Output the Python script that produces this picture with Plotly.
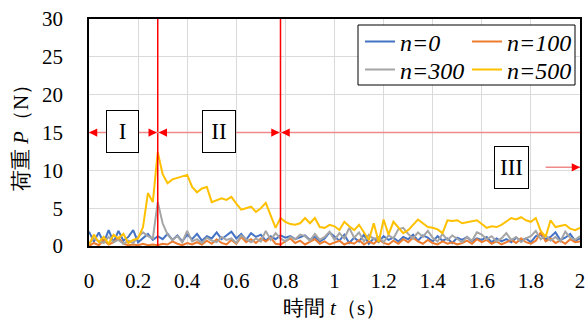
import plotly.graph_objects as go

# time axis (s), sampled every 0.02 s
t = [round(i * 0.02, 2) for i in range(101)]

p_n0 = [1.9, 0.6, 1.8, 0.4, 2.1, 0.5, 2.0, 0.7, 1.2, 2.1, 0.5, 1.0, 1.6, 0.8, 1.3, 0.9, 1.6, 0.8, 1.4, 0.6,
        1.5, 0.9, 1.6, 0.7, 1.3, 1.0, 1.8, 0.9, 1.4, 1.9, 1.0, 1.6, 0.8, 1.7, 1.2, 1.5, 0.7, 1.3, 0.9, 1.4,
        1.1, 1.3, 0.9, 1.2, 1.4, 0.8, 1.2, 0.6, 1.0, 1.8, 1.2, 0.7, 1.5, 0.4, 1.1, 0.6, 1.5, 0.3, 1.0, 0.5,
        1.3, 0.8, 1.1, 0.6, 1.2, 0.9, 1.5, 0.7, 1.4, 1.1, 0.6, 1.3, 0.7, 1.0, 0.4, 1.1, 0.8, 1.2, 0.6, 1.0,
        0.8, 1.2, 0.5, 1.0, 0.6, 0.9, 0.5, 1.1, 0.7, 1.0, 0.5, 1.3, 1.5, 0.9, 1.2, 1.8, 0.8, 1.1, 1.6, 0.7,
        1.0]

p_n100 = [0.0, 0.4, 0.1, 0.8, 0.2, 0.5, 1.1, 0.3, 0.1, 0.2, 0.1, 0.3, 0.1, 0.2, 0.1, 0.3, 0.2, 0.6, 0.3, 0.1,
          0.4, 0.2, 0.5, 0.2, 0.7, 0.3, 0.9, 0.4, 0.2, 0.8, 0.3, 1.2, 0.5, 0.9, 0.4, 1.0, 0.6, 1.1, 0.3, 0.2,
          0.6, 1.0, 0.4, 0.7, 0.2, 0.5, 0.9, 0.3, 0.6, 0.2, 0.4, 0.7, 0.2, 0.5, 0.3, 0.8, 0.2, 0.6, 0.3, 0.9,
          0.4, 0.2, 0.7, 0.3, 0.9, 0.5, 1.1, 0.6, 0.3, 0.8, 0.4, 0.2, 0.6, 0.3, 0.5, 0.2, 0.4, 0.7, 0.3, 0.9,
          0.5, 0.8, 0.3, 0.6, 0.2, 0.5, 0.8, 0.4, 1.0, 0.5, 0.3, 0.7, 1.8, 0.6, 1.0, 0.4, 0.7, 0.3, 0.9, 0.5,
          0.6]

p_n300 = [0.3, 1.0, 0.6, 0.4, 1.2, 0.5, 0.8, 0.3, 0.7, 0.4, 1.2, 1.8, 1.3, 1.0, 5.8, 3.0, 1.5, 0.8, 1.3, 0.5,
          2.0, 0.6, 0.9, 0.4, 1.1, 0.7, 0.5, 1.2, 0.8, 1.0, 0.4, 1.4, 0.9, 0.5, 1.0, 0.6, 2.0, 0.8, 1.7, 1.0,
          0.6, 1.2, 0.9, 1.5, 1.3, 0.7, 1.6, 0.8, 1.2, 1.9, 0.8, 1.7, 1.0, 2.4, 1.1, 1.8, 0.6, 1.5, 0.9, 1.2,
          0.5, 1.4, 1.0, 2.2, 2.4, 1.6, 1.0, 1.8, 1.2, 2.0, 1.1, 0.6, 1.6, 0.8, 1.4, 0.9, 0.5, 1.2, 0.7, 1.8,
          1.5, 0.9, 1.3, 0.6, 1.0, 1.7, 0.8, 1.2, 0.5, 1.0, 1.3, 2.0, 0.9, 1.4, 0.7, 1.2, 0.6, 1.9, 1.1, 0.8,
          1.3]

p_n500 = [0.2, 1.5, 0.5, 1.2, 0.3, 1.5, 1.0, 1.6, 0.4, 0.8, 1.0, 2.5, 7.0, 5.8, 12.4, 9.5, 8.3, 8.8, 9.0, 9.2,
          9.4, 7.8, 7.1, 7.6, 7.8, 5.8, 6.1, 6.3, 6.1, 6.5, 5.6, 4.8, 5.0, 5.2, 4.5, 5.0, 5.7, 4.0, 2.4, 3.7,
          3.2, 2.9, 2.8, 3.0, 3.7, 3.0, 3.7, 2.5, 2.4, 2.8, 2.6, 2.1, 3.2, 2.6, 2.1, 2.8, 1.8, 0.8, 3.0, 0.5,
          3.5, 1.5, 3.2, 2.4, 1.7, 2.1, 2.8, 3.5, 3.0, 2.5, 2.4, 2.2, 1.7, 3.4, 3.3, 3.4, 3.0, 3.1, 3.3, 3.4,
          2.9, 2.4, 2.6, 2.5, 2.8, 3.3, 3.7, 3.5, 3.8, 3.4, 3.2, 3.7, 2.0, 1.2, 3.4, 2.5, 2.7, 2.8, 2.3, 2.1,
          2.4]

series = [("n=0", p_n0, "#4472C4", "legend"),
          ("n=100", p_n100, "#ED7D31", "legend2"),
          ("n=300", p_n300, "#A5A5A5", "legend3"),
          ("n=500", p_n500, "#FFC000", "legend4")]

# region boundaries (s)
t_b1 = 0.28
t_b2 = 0.78
arrow_y = 15
x_ticks = [0, 0.2, 0.4, 0.6, 0.8, 1, 1.2, 1.4, 1.6, 1.8, 2]
x_ticktext = ["0", "0.2", "0.4", "0.6", "0.8", "1", "1.2", "1.4", "1.6", "1.8", "2"]

SERIF = "Liberation Serif"

fig = go.Figure()
for name, vals, col, lg in series:
    fig.add_trace(go.Scatter(x=t, y=vals, mode="lines", name=name,
                             line=dict(color=col, width=2), legend=lg))

# red boundary lines
for xb in (t_b1, t_b2):
    fig.add_shape(type="line", x0=xb, x1=xb, y0=0, y1=30, xref="x", yref="y",
                  line=dict(color="#FF0000", width=1.5))

PINK = "#F08A8A"
# pink horizontal region lines
fig.add_shape(type="line", x0=0, x1=2, y0=arrow_y, y1=arrow_y, xref="x", yref="y",
              line=dict(color=PINK, width=1.5))
fig.add_shape(type="line", x0=1.86, x1=2, y0=10.4, y1=10.4, xref="x", yref="y",
              line=dict(color=PINK, width=1.5))

def arrowhead(tip, tail, y):
    fig.add_annotation(x=tip, y=y, ax=tail, ay=y, xref="x", yref="y", axref="x", ayref="y",
                       text="", showarrow=True, arrowhead=2, arrowsize=1.1, arrowwidth=1.5,
                       arrowcolor="#FF0000", standoff=0)

arrowhead(0.0, 0.03, arrow_y)
arrowhead(t_b1 - 0.004, t_b1 - 0.03, arrow_y)
arrowhead(t_b1 + 0.004, t_b1 + 0.03, arrow_y)
arrowhead(t_b2 - 0.004, t_b2 - 0.03, arrow_y)
arrowhead(t_b2 + 0.004, t_b2 + 0.03, arrow_y)
arrowhead(2.0, 1.97, 10.4)

def box(label, xc, yc, w):
    fig.add_annotation(x=xc, y=yc, xref="x", yref="y", text=label, showarrow=False,
                       font=dict(family=SERIF, size=23, color="black"),
                       bgcolor="white", bordercolor="black", borderwidth=1,
                       width=w, height=39, borderpad=1)

box("I", 0.136, 15.1, 29)
box("II", 0.53, 15.1, 30)
box("III", 1.72, 10.4, 31)

# legend frame
fig.add_shape(type="rect", xref="paper", yref="paper",
              x0=(358 - 89) / 491, x1=(575 - 89) / 491, y0=(246 - 85) / 227, y1=(246 - 25) / 227,
              line=dict(color="black", width=1), fillcolor="white", layer="above")

leg_common = dict(orientation="h", yanchor="middle", bgcolor="rgba(0,0,0,0)",
                  borderwidth=0,
                  font=dict(family=SERIF, size=24, color="black", style="italic"),
                  itemclick=False, itemdoubleclick=False)

col1 = (360 - 89) / 491
col2r = (577 - 89) / 491
row1 = (246 - 42) / 227
row2 = (246 - 70) / 227

fig.update_layout(
    width=587, height=329,
    margin=dict(l=89, r=7, t=19, b=83),
    plot_bgcolor="white", paper_bgcolor="white",
    showlegend=True,
    legend=dict(x=col1, y=row1, xanchor="left", **leg_common),
    legend2=dict(x=col2r, y=row1, xanchor="right", **leg_common),
    legend3=dict(x=col1, y=row2, xanchor="left", **leg_common),
    legend4=dict(x=col2r, y=row2, xanchor="right", **leg_common),
    xaxis=dict(range=[0, 2], tickvals=x_ticks, ticktext=x_ticktext, automargin=False,
               showgrid=True, gridcolor="#DADADA", gridwidth=1,
               showline=True, linecolor="black", linewidth=1.5, mirror=True,
               ticks="", ticklabelstandoff=15, zeroline=False,
               tickfont=dict(family=SERIF, size=21, color="black"),
               title=dict(text="時間 <i>t</i>（s）", standoff=8,
                          font=dict(family=SERIF, size=21, color="black"))),
    yaxis=dict(range=[0, 30], tickvals=[0, 5, 10, 15, 20, 25, 30], automargin=False,
               showgrid=True, gridcolor="#DADADA", gridwidth=1,
               showline=True, linecolor="black", linewidth=1.5, mirror=True,
               ticks="", ticklabelstandoff=20, zeroline=False,
               tickfont=dict(family=SERIF, size=21, color="black"),
               title=dict(text="荷重 <i>P</i>（N）", standoff=8,
                          font=dict(family=SERIF, size=21, color="black"))),
)

fig.write_html("out.html")
